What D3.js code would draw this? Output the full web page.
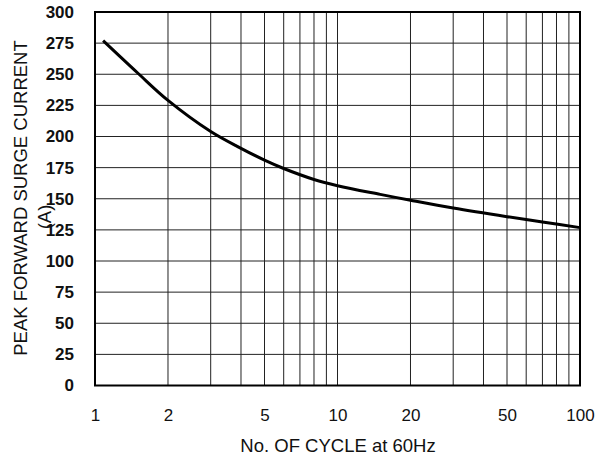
<!DOCTYPE html>
<html>
<head>
<meta charset="utf-8">
<script src="https://cdn.jsdelivr.net/npm/d3@7"></script>
<style>
  body { margin: 0; background: #fff; }
  svg { display: block; font-family: "Liberation Sans", Arial, sans-serif; }
</style>
</head>
<body>
<div id="chart"></div>
<script>
// Peak forward surge current vs number of cycles at 60Hz
const cycles = [1.08, 1.5, 2, 3, 4, 5, 6, 8, 10, 15, 20, 30, 50, 70, 100];
const surgeCurrent = [277, 251, 229, 204, 190.5, 181, 174.3, 165.5, 160.5, 153.5, 148.8, 142.5, 135.6, 131.4, 126.8];
const xTickValues = [1, 2, 5, 10, 20, 50, 100];
const yTickValues = [0, 25, 50, 75, 100, 125, 150, 175, 200, 225, 250, 275, 300];
const xGridValues = [1, 2, 3, 4, 5, 6, 7, 8, 9, 10, 20, 30, 40, 50, 60, 70, 80, 90, 100];

const width = 607, height = 458;
const margin = { top: 12, right: 27, bottom: 72.5, left: 95 };
const innerW = width - margin.left - margin.right;
const innerH = height - margin.top - margin.bottom;

const svg = d3.select('#chart').append('svg')
    .attr('width', width)
    .attr('height', height);

const g = svg.append('g')
    .attr('transform', `translate(${margin.left},${margin.top})`);

const x = d3.scaleLog().domain([1, 100]).range([0, innerW]);
const y = d3.scaleLinear().domain([0, 300]).range([innerH, 0]);

// Grid lines
g.append('g').attr('class', 'grid-x')
    .selectAll('line')
    .data(xGridValues)
    .enter().append('line')
    .attr('x1', d => x(d)).attr('x2', d => x(d))
    .attr('y1', 0).attr('y2', innerH)
    .attr('stroke', '#222').attr('stroke-width', 1);

g.append('g').attr('class', 'grid-y')
    .selectAll('line')
    .data(yTickValues)
    .enter().append('line')
    .attr('x1', 0).attr('x2', innerW)
    .attr('y1', d => y(d)).attr('y2', d => y(d))
    .attr('stroke', '#222').attr('stroke-width', 1);

// Frame
g.append('rect')
    .attr('x', 0).attr('y', 0)
    .attr('width', innerW).attr('height', innerH)
    .attr('fill', 'none')
    .attr('stroke', '#000')
    .attr('stroke-width', 2);

// Axes (labels only)
const xAxis = g.append('g')
    .attr('transform', `translate(0,${innerH})`)
    .call(d3.axisBottom(x).tickValues(xTickValues).tickFormat(d3.format('d')).tickSize(0).tickPadding(23));
xAxis.select('.domain').remove();
xAxis.selectAll('text')
    .attr('font-size', '17px')
    .attr('font-family', '"Liberation Sans", Arial, sans-serif')
    .attr('fill', '#111');

const yAxis = g.append('g')
    .call(d3.axisLeft(y).tickValues(yTickValues).tickSize(0).tickPadding(21));
yAxis.select('.domain').remove();
yAxis.selectAll('text')
    .attr('font-size', '17px')
    .attr('font-weight', 'bold')
    .attr('font-family', '"Liberation Sans", Arial, sans-serif')
    .attr('fill', '#111');

// Curve
const line = d3.line()
    .x((d, i) => x(cycles[i]))
    .y(d => y(d))
    .curve(d3.curveCatmullRom.alpha(0.5));

g.append('path')
    .datum(surgeCurrent)
    .attr('d', line)
    .attr('fill', 'none')
    .attr('stroke', '#000')
    .attr('stroke-width', 3);

// Axis titles
svg.append('text')
    .attr('x', 338)
    .attr('y', 452)
    .attr('text-anchor', 'middle')
    .attr('font-size', '18.5px')
    .attr('fill', '#111')
    .text('No. OF CYCLE at 60Hz');

svg.append('text')
    .attr('transform', 'translate(27,198) rotate(-90)')
    .attr('text-anchor', 'middle')
    .attr('font-size', '18.5px')
    .attr('fill', '#111')
    .text('PEAK FORWARD SURGE CURRENT');

svg.append('text')
    .attr('transform', 'translate(51,217) rotate(-90)')
    .attr('text-anchor', 'middle')
    .attr('font-size', '18.5px')
    .attr('fill', '#111')
    .text('(A)');
</script>
</body>
</html>
